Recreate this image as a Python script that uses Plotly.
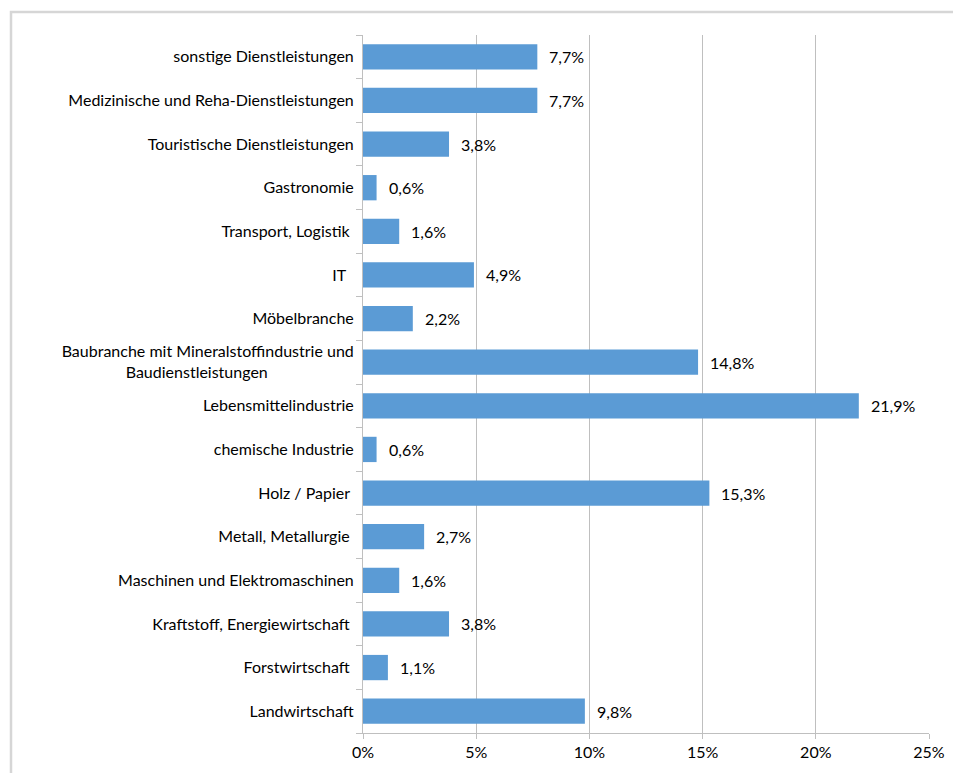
import plotly.graph_objects as go

categories = [
    "Landwirtschaft",
    "Forstwirtschaft ",
    "Kraftstoff, Energiewirtschaft ",
    "Maschinen und Elektromaschinen",
    "Metall, Metallurgie ",
    "Holz / Papier ",
    "chemische Industrie",
    "Lebensmittelindustrie",
    "Baubranche mit Mineralstoffindustrie und<br>Baudienstleistungen",
    "Möbelbranche",
    "IT  ",
    "Transport, Logistik ",
    "Gastronomie",
    "Touristische Dienstleistungen",
    "Medizinische und Reha-Dienstleistungen",
    "sonstige Dienstleistungen",
]
values = [9.8, 1.1, 3.8, 1.6, 2.7, 15.3, 0.6, 21.9, 14.8, 2.2, 4.9, 1.6, 0.6, 3.8, 7.7, 7.7]
labels = [f"{v:.1f}%".replace(".", ",") for v in values]
tick_vals = [0, 5, 10, 15, 20, 25]
tick_text = ["0%", "5%", "10%", "15%", "20%", "25%"]

def fix(c):
    if "<br>" in c:
        a, b = c.split("<br>")
        return a + "<br>" + b + "\u00a0" * 21
    return c.replace(" ", "\u00a0") if c.endswith(" ") else c

cats = [fix(c) for c in categories]

font = "Lato, Open Sans, sans-serif"
W, H = 953, 765
L, R, T, B = 355, 32, 27, 40
pw = W - L - R
ph = H - T - B

fig = go.Figure(go.Bar(
    y=cats, x=values, orientation="h",
    marker=dict(color="#5B9BD5", line=dict(width=0)),
    hoverinfo="skip",
))

for c, v, t in zip(cats, values, labels):
    fig.add_annotation(x=v, y=c, text=t, showarrow=False, xanchor="left",
                       xshift=10, font=dict(size=16, color="#000000", family=font))

fig.add_shape(type="rect", xref="paper", yref="paper",
              x0=(11 - 8 - L) / pw, x1=1.2, y0=-0.2, y1=1 + 23 / ph,
              line=dict(color="#D6D6D6", width=2.5), fillcolor="rgba(0,0,0,0)", layer="below")

fig.update_layout(
    width=W, height=H,
    margin=dict(l=L, r=R, t=T, b=B),
    paper_bgcolor="white", plot_bgcolor="white",
    bargap=0.42,
    showlegend=False,
    font=dict(family=font, size=16, color="#000000"),
    xaxis=dict(
        range=[0, 25], tickvals=tick_vals, ticktext=tick_text,
        showgrid=True, gridcolor="#BFBFBF", gridwidth=1,
        showline=True, linecolor="#BFBFBF", linewidth=1,
        ticks="outside", ticklen=5, tickcolor="#BFBFBF",
        zeroline=False, fixedrange=True,
        tickfont=dict(size=16),
    ),
    yaxis=dict(
        type="category", categoryorder="array", categoryarray=cats,
        showline=True, linecolor="#BFBFBF", linewidth=1,
        ticks="outside", ticklen=6, tickcolor="#BFBFBF", tickson="boundaries",
        ticklabelstandoff=5,
        showgrid=False, fixedrange=True,
        tickfont=dict(size=16),
    ),
)

fig.write_html("out.html")
